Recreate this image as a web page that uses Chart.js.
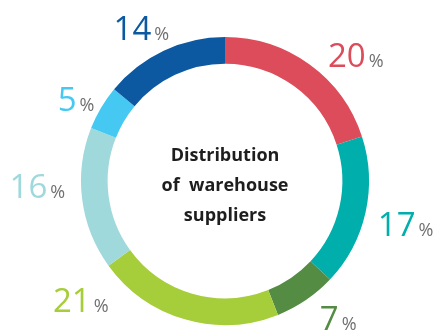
<!DOCTYPE html>
<html>
<head>
<meta charset="utf-8">
<script src="https://cdn.jsdelivr.net/npm/chart.js@4"></script>
<style>
  html, body { margin: 0; padding: 0; background: #ffffff; }
  #wrap { width: 433px; height: 331px; position: relative; }
</style>
</head>
<body>
<div id="wrap"><canvas id="c" width="433" height="331"></canvas></div>
<script>
// Supplier share, clockwise from 12 o'clock
const categories = ['A', 'B', 'C', 'D', 'E', 'F', 'G'];
const shares = [20, 17, 7, 21, 16, 5, 14];
const colors = ['#dc4c5b', '#00afac', '#538c42', '#a6cd3a', '#a0d9dc', '#45c8f2', '#0c59a2'];
const centerLines = ['Distribution', 'of  warehouse', 'suppliers'];

// Label nudges (px) from the mid-angle anchor point
const labelNudge = [[25, 20], [5, 4], [12, -12], [-94, -54], [-9, -18], [6, 10], [-7, 10]];
const labelRadiusExtra = 36;

const sliceLabels = {
  id: 'sliceLabels',
  afterDatasetsDraw(chart) {
    const ctx = chart.ctx;
    const meta = chart.getDatasetMeta(0);
    ctx.save();
    meta.data.forEach((arc, i) => {
      const mid = (arc.startAngle + arc.endAngle) / 2;
      const r = arc.outerRadius + labelRadiusExtra;
      const cx = arc.x + Math.cos(mid) * r + labelNudge[i][0];
      const cy = arc.y + Math.sin(mid) * r + labelNudge[i][1];
      const num = String(shares[i]);
      const big = '33px "Open Sans", "Noto Sans", sans-serif';
      const small = '18px "Open Sans", "Noto Sans", sans-serif';
      ctx.font = big;
      const wNum = ctx.measureText(num).width;
      ctx.font = small;
      const wPct = ctx.measureText('%').width;
      const gap = 3;
      const total = wNum + gap + wPct;
      const x0 = cx - total / 2;
      const base = cy + 12;
      ctx.textBaseline = 'alphabetic';
      ctx.textAlign = 'left';
      ctx.font = big;
      ctx.fillStyle = colors[i];
      ctx.fillText(num, x0, base);
      ctx.font = small;
      ctx.fillStyle = '#707070';
      ctx.fillText('%', x0 + wNum + gap, base);
    });
    // centre caption
    ctx.font = 'bold 18px "Open Sans", "Noto Sans", sans-serif';
    ctx.fillStyle = '#1e1e1e';
    ctx.textAlign = 'center';
    ctx.textBaseline = 'middle';
    const x = meta.data[0].x;
    const y = meta.data[0].y;
    const lh = 30;
    centerLines.forEach((t, k) => {
      ctx.fillText(t, x, y + 5 + (k - 1) * lh);
    });
    ctx.restore();
  }
};

new Chart(document.getElementById('c'), {
  type: 'doughnut',
  data: {
    labels: categories,
    datasets: [{
      data: shares,
      backgroundColor: colors,
      borderWidth: 0
    }]
  },
  options: {
    responsive: false,
    animation: false,
    cutout: '81.5%',
    layout: { padding: { left: 17, right: 0, top: 37, bottom: 6 } },
    plugins: {
      legend: { display: false },
      tooltip: { enabled: false }
    }
  },
  plugins: [sliceLabels]
});
</script>
</body>
</html>
